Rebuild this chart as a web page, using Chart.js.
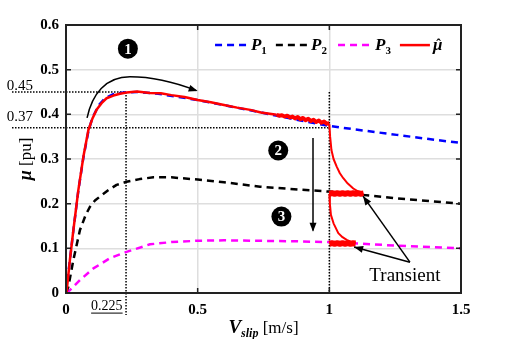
<!DOCTYPE html>
<html>
<head>
<meta charset="utf-8">
<script src="https://cdn.jsdelivr.net/npm/chart.js@4.4.1/dist/chart.umd.min.js"></script>
<style>
    body { margin: 0; background: #fff; }
    canvas { display: block; }
</style>
</head>
<body>
<canvas id="myChart" width="509" height="339"></canvas>
<script>
// friction curves
const p1X = [0, 0.01, 0.028, 0.047, 0.066, 0.085, 0.1, 0.125, 0.15, 0.18, 0.22, 0.27, 0.35, 0.5, 0.7, 0.85, 1.0, 1.1, 1.256, 1.4, 1.5];
const p1Y = [0, 0.05, 0.14, 0.23, 0.303, 0.362, 0.392, 0.421, 0.437, 0.445, 0.449, 0.45, 0.446, 0.432, 0.409, 0.391, 0.374, 0.366, 0.354, 0.343, 0.336];

const p2X = [0, 0.009, 0.028, 0.053, 0.075, 0.091, 0.11, 0.129, 0.16, 0.192, 0.23, 0.28, 0.332, 0.4, 0.5, 0.6, 0.737, 0.85, 1.0, 1.256, 1.5];
const p2Y = [0, 0.014, 0.074, 0.141, 0.175, 0.193, 0.207, 0.216, 0.23, 0.242, 0.249, 0.255, 0.259, 0.259, 0.254, 0.248, 0.238, 0.233, 0.227, 0.212, 0.2];

const p3X = [0, 0.009, 0.053, 0.104, 0.167, 0.23, 0.319, 0.4, 0.5, 0.6, 0.7, 0.85, 1.0, 1.256, 1.5];
const p3Y = [0, 0.003, 0.029, 0.055, 0.078, 0.092, 0.109, 0.114, 0.117, 0.118, 0.117, 0.116, 0.114, 0.106, 0.1];

// estimated mu (red), main run along P1
const muX = [0, 0.003, 0.015, 0.028, 0.047, 0.066, 0.085, 0.1, 0.116, 0.135, 0.154, 0.18, 0.205, 0.23, 0.27, 0.319, 0.36, 0.4, 0.45, 0.5, 0.55, 0.6, 0.65, 0.7, 0.74, 0.8];
const muY = [0, 0.007, 0.075, 0.141, 0.231, 0.305, 0.365, 0.39, 0.41, 0.425, 0.436, 0.442, 0.446, 0.449, 0.451, 0.448, 0.447, 0.443, 0.439, 0.432, 0.427, 0.421, 0.415, 0.41, 0.404, 0.399];

// noisy band before the switch at Vslip = 1
const bandAX = [0.8, 0.81, 0.82, 0.83, 0.84, 0.85, 0.86, 0.87, 0.88, 0.89, 0.9, 0.91, 0.92, 0.93, 0.94, 0.95, 0.96, 0.97, 0.98, 0.99, 1.0];
const bandAY = [0.399, 0.397, 0.398, 0.395, 0.397, 0.393, 0.395, 0.391, 0.394, 0.389, 0.392, 0.387, 0.39, 0.385, 0.388, 0.383, 0.386, 0.381, 0.384, 0.379, 0.38];

// transients after the surface change
const tr1X = [1.0, 1.003, 1.008, 1.016, 1.028, 1.04, 1.053, 1.07, 1.091, 1.11, 1.129];
const tr1Y = [0.378, 0.35, 0.32, 0.3, 0.283, 0.268, 0.257, 0.245, 0.234, 0.227, 0.222];
const tr2X = [1.0, 1.002, 1.006, 1.016, 1.034, 1.05, 1.066, 1.085, 1.1];
const tr2Y = [0.222, 0.2, 0.175, 0.156, 0.134, 0.125, 0.119, 0.114, 0.112];

const bandBX = [1.0, 1.01, 1.02, 1.03, 1.04, 1.05, 1.06, 1.07, 1.08, 1.09, 1.1, 1.11, 1.12, 1.13];
const bandBY = [0.222, 0.2235, 0.222, 0.2235, 0.222, 0.2235, 0.222, 0.2235, 0.222, 0.2235, 0.222, 0.2235, 0.222, 0.223];
const bandCX = [1.0, 1.01, 1.02, 1.03, 1.04, 1.05, 1.06, 1.07, 1.08, 1.09, 1.1];
const bandCY = [0.11, 0.1115, 0.11, 0.1115, 0.11, 0.1115, 0.11, 0.1115, 0.11, 0.1115, 0.111];

const xTicks = [0, 0.5, 1, 1.5];
const xTickLabels = ['0', '0.5', '1', '1.5'];
const yTicks = [0, 0.1, 0.2, 0.3, 0.4, 0.5, 0.6];
const yTickLabels = ['0', '0.1', '0.2', '0.3', '0.4', '0.5', '0.6'];

const serif = "'Liberation Serif', 'Times New Roman', serif";

function pts(xs, ys) {
    return xs.map((v, i) => ({ x: v, y: ys[i] }));
}

// order: larger numbers are drawn first (underneath)
function curve(label, xs, ys, color, width, dash, order) {
    return {
        label: label,
        data: pts(xs, ys),
        borderColor: color,
        backgroundColor: color,
        borderWidth: width,
        borderDash: dash || [],
        borderJoinStyle: 'round',
        showLine: true,
        pointRadius: 0,
        tension: 0,
        fill: false,
        order: order || 0,
    };
}

// draw a run of text pieces with different fonts
function richText(ctx, parts, x, y, align) {
    let total = 0;
    parts.forEach(p => { ctx.font = p.font; total += ctx.measureText(p.text).width; });
    let cx = align === 'center' ? x - total / 2 : (align === 'right' ? x - total : x);
    ctx.textAlign = 'left';
    ctx.textBaseline = 'alphabetic';
    parts.forEach(p => {
        ctx.font = p.font;
        const w = ctx.measureText(p.text).width;
        ctx.fillText(p.text, cx, y + (p.dy || 0));
        if (p.hat) {
            // circumflex over the glyph
            ctx.font = 'bold 14px ' + serif;
            ctx.textAlign = 'center';
            ctx.fillText('ˆ', cx + w / 2 + 1, y - 1);
            ctx.textAlign = 'left';
        }
        cx += w;
    });
}

function arrowHead(ctx, fx, fy, tx, ty) {
    const a = Math.atan2(ty - fy, tx - fx);
    const len = 9, w = 3.5;
    ctx.beginPath();
    ctx.moveTo(tx, ty);
    ctx.lineTo(tx - len * Math.cos(a) + w * Math.sin(a), ty - len * Math.sin(a) - w * Math.cos(a));
    ctx.lineTo(tx - len * Math.cos(a) - w * Math.sin(a), ty - len * Math.sin(a) + w * Math.cos(a));
    ctx.closePath();
    ctx.fill();
}

function circledNumber(ctx, cx, cy, n) {
    ctx.beginPath();
    ctx.arc(cx, cy, 10, 0, Math.PI * 2);
    ctx.fillStyle = '#000';
    ctx.fill();
    ctx.fillStyle = '#fff';
    ctx.font = 'bold 15px ' + serif;
    ctx.textAlign = 'center';
    ctx.textBaseline = 'middle';
    ctx.fillText(n, cx, cy + 1);
}

const annotations = {
    id: 'annotations',
    beforeDatasetsDraw(chart) {
        const ctx = chart.ctx;
        const sx = v => chart.scales.x.getPixelForValue(v);
        const sy = v => chart.scales.y.getPixelForValue(v);
        ctx.save();
        ctx.strokeStyle = '#000';
        ctx.lineWidth = 1.5;
        ctx.setLineDash([1.5, 1.5]);
        const guides = [
            [-0.205, 0.45, 0.228, 0.45],
            [-0.205, 0.37, 1.0, 0.37],
            [0.228, 0.45, 0.228, -0.049],
            [1.0, 0.45, 1.0, 0],
        ];
        guides.forEach(g => {
            ctx.beginPath();
            ctx.moveTo(sx(g[0]), sy(g[1]));
            ctx.lineTo(sx(g[2]), sy(g[3]));
            ctx.stroke();
        });
        ctx.restore();
    },
    afterDraw(chart) {
        const ctx = chart.ctx;
        const area = chart.chartArea;
        const sx = v => chart.scales.x.getPixelForValue(v);
        const sy = v => chart.scales.y.getPixelForValue(v);
        ctx.save();

        // box and inner ticks
        ctx.strokeStyle = '#222';
        ctx.lineWidth = 2;
        ctx.strokeRect(area.left, area.top, area.right - area.left, area.bottom - area.top);
        ctx.lineWidth = 1.5;
        ctx.beginPath();
        xTicks.slice(1, -1).forEach(v => {
            ctx.moveTo(sx(v), area.bottom); ctx.lineTo(sx(v), area.bottom - 5);
            ctx.moveTo(sx(v), area.top); ctx.lineTo(sx(v), area.top + 5);
        });
        yTicks.slice(1, -1).forEach(v => {
            ctx.moveTo(area.left, sy(v)); ctx.lineTo(area.left + 5, sy(v));
            ctx.moveTo(area.right, sy(v)); ctx.lineTo(area.right - 5, sy(v));
        });
        ctx.stroke();

        ctx.fillStyle = '#000';
        ctx.strokeStyle = '#000';

        // side labels for guide lines
        ctx.font = '15px ' + serif;
        ctx.textAlign = 'right';
        ctx.textBaseline = 'middle';
        ctx.fillText('0.45', sx(-0.125), sy(0.463));
        ctx.fillText('0.37', sx(-0.125), sy(0.394));
        ctx.font = '14px ' + serif;
        ctx.fillText('0.225', sx(0.215), sy(-0.03));
        const w225 = ctx.measureText('0.225').width;
        ctx.lineWidth = 1;
        ctx.beginPath();
        ctx.moveTo(sx(0.215) - w225, sy(-0.045));
        ctx.lineTo(sx(0.215), sy(-0.045));
        ctx.stroke();

        // curved arrow over the peak
        ctx.lineWidth = 1.5;
        ctx.beginPath();
        ctx.moveTo(sx(0.08), sy(0.392));
        ctx.bezierCurveTo(sx(0.099), sy(0.445), sx(0.15), sy(0.484), sx(0.243), sy(0.484));
        ctx.quadraticCurveTo(sx(0.36), sy(0.484), sx(0.495), sy(0.453));
        ctx.stroke();
        arrowHead(ctx, sx(0.4), sy(0.472), sx(0.5), sy(0.452));

        // vertical arrow
        ctx.beginPath();
        ctx.moveTo(sx(0.938), sy(0.347));
        ctx.lineTo(sx(0.938), sy(0.14));
        ctx.stroke();
        arrowHead(ctx, sx(0.938), sy(0.3), sx(0.938), sy(0.137));

        // transient arrows
        const base = [1.306, 0.069];
        [[1.128, 0.217], [1.094, 0.103]].forEach(t => {
            ctx.beginPath();
            ctx.moveTo(sx(base[0]), sy(base[1]));
            ctx.lineTo(sx(t[0]), sy(t[1]));
            ctx.stroke();
            arrowHead(ctx, sx(base[0]), sy(base[1]), sx(t[0]), sy(t[1]));
        });
        ctx.font = '19px ' + serif;
        ctx.textAlign = 'center';
        ctx.textBaseline = 'middle';
        ctx.fillText('Transient', sx(1.287), sy(0.038));

        circledNumber(ctx, sx(0.235), sy(0.547), '1');
        circledNumber(ctx, sx(0.806), sy(0.319), '2');
        circledNumber(ctx, sx(0.818), sy(0.171), '3');

        // legend inside the plot
        const legend = [
            { ds: 0, x0: 0.566, x1: 0.691, parts: [{ text: 'P', font: 'italic bold 17px ' + serif }, { text: '1', font: 'bold 11px ' + serif, dy: 4 }] },
            { ds: 1, x0: 0.797, x1: 0.919, parts: [{ text: 'P', font: 'italic bold 17px ' + serif }, { text: '2', font: 'bold 11px ' + serif, dy: 4 }] },
            { ds: 2, x0: 1.033, x1: 1.162, parts: [{ text: 'P', font: 'italic bold 17px ' + serif }, { text: '3', font: 'bold 11px ' + serif, dy: 4 }] },
            { ds: 3, x0: 1.268, x1: 1.382, parts: [{ text: 'μ', font: 'italic bold 17px ' + serif, hat: true }] },
        ];
        const ly = sy(0.555);
        legend.forEach(item => {
            const ds = chart.data.datasets[item.ds];
            ctx.strokeStyle = ds.borderColor;
            ctx.lineWidth = 2.5;
            ctx.setLineDash(ds.borderDash);
            ctx.beginPath();
            ctx.moveTo(sx(item.x0), ly);
            ctx.lineTo(sx(item.x1), ly);
            ctx.stroke();
            ctx.setLineDash([]);
            ctx.fillStyle = '#000';
            richText(ctx, item.parts, sx(item.x1) + 3, ly + 5, 'left');
        });

        // axis titles
        richText(ctx, [
            { text: 'V', font: 'italic bold 19px ' + serif },
            { text: 'slip', font: 'italic bold 12px ' + serif, dy: 4 },
            { text: ' [m/s]', font: '17px ' + serif },
        ], sx(0.75), 333, 'center');

        ctx.translate(31, (area.top + area.bottom) / 2);
        ctx.rotate(-Math.PI / 2);
        richText(ctx, [
            { text: 'μ', font: 'italic bold 18px ' + serif },
            { text: ' [pu]', font: '17px ' + serif },
        ], 0, 0, 'center');

        ctx.restore();
    }
};

const ctx = document.getElementById('myChart').getContext('2d');
const myChart = new Chart(ctx, {
    type: 'scatter',
    data: {
        datasets: [
            curve('P1', p1X, p1Y, '#0000ff', 2.5, [7, 5], 1),
            curve('P2', p2X, p2Y, '#000000', 2.5, [7, 5], 1),
            curve('P3', p3X, p3Y, '#ff00ff', 2.5, [7, 5], 1),
            curve('mu', muX, muY, '#ff0000', 2.5),
            curve('muBandA', bandAX, bandAY, '#ff0000', 4),
            curve('muTr1', tr1X, tr1Y, '#ff0000', 2),
            curve('muTr2', tr2X, tr2Y, '#ff0000', 2),
            curve('muBandB', bandBX, bandBY, '#ff0000', 6),
            curve('muBandC', bandCX, bandCY, '#ff0000', 6),
        ]
    },
    options: {
        responsive: false,
        animation: false,
        layout: {
            padding: { left: 0, top: 25, right: 48, bottom: 0 }
        },
        plugins: {
            legend: { display: false },
            tooltip: { enabled: false },
        },
        scales: {
            x: {
                type: 'linear',
                min: 0,
                max: 1.5,
                afterFit: s => { s.height = 46; },
                afterBuildTicks: s => { s.ticks = xTicks.map(v => ({ value: v })); },
                ticks: {
                    callback: (v, i) => xTickLabels[i],
                    color: '#000',
                    font: { family: serif, size: 15, weight: 'bold' },
                    padding: 8,
                    maxRotation: 0,
                },
                grid: { color: '#dedede', lineWidth: 1.5, drawTicks: false },
                border: { display: false },
            },
            y: {
                type: 'linear',
                min: 0,
                max: 0.6,
                afterFit: s => { s.width = 66; },
                afterBuildTicks: s => { s.ticks = yTicks.map(v => ({ value: v })); },
                ticks: {
                    callback: (v, i) => yTickLabels[i],
                    color: '#000',
                    font: { family: serif, size: 15, weight: 'bold' },
                    padding: 7,
                },
                grid: { color: '#dedede', lineWidth: 1.5, drawTicks: false },
                border: { display: false },
            }
        }
    },
    plugins: [annotations]
});
</script>
</body>
</html>
